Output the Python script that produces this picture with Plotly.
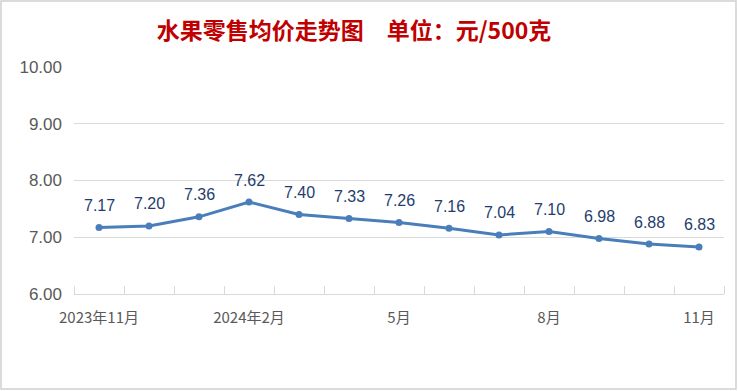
import plotly.graph_objects as go

months = ["2023年11月", "12月", "2024年1月", "2024年2月", "3月", "4月", "5月",
          "6月", "7月", "8月", "9月", "10月", "11月"]
prices = [7.17, 7.20, 7.36, 7.62, 7.40, 7.33, 7.26, 7.16, 7.04, 7.10, 6.98, 6.88, 6.83]
tick_idx = [0, 3, 6, 9, 12]
tick_text = ["2023年11月", "2024年2月", "5月", "8月", "11月"]

x = list(range(len(prices)))

fig = go.Figure()
fig.add_trace(go.Scatter(
    x=x, y=prices, mode="lines+markers",
    line=dict(color="#4A7EBB", width=3),
    marker=dict(color="#4A7EBB", size=7),
    hoverinfo="skip", showlegend=False,
))

for xi, v in zip(x, prices):
    fig.add_annotation(x=xi, y=v, text=f"{v:.2f}", showarrow=False,
                       yshift=22, font=dict(family="Liberation Sans", size=16, color="#1F3D6E"))

fig.update_layout(
    width=738, height=391,
    margin=dict(l=74, r=14, t=67, b=97),
    paper_bgcolor="white", plot_bgcolor="white",
    title=dict(text="<b>水果零售均价走势图　单位：元/500克</b>", x=354/738, xanchor="center",
               y=1 - 31/391, yanchor="middle",
               font=dict(family="Noto Sans CJK SC", size=23, color="#C00000")),
    xaxis=dict(range=[-0.5, 12.5], tickmode="array", tickvals=tick_idx, ticktext=tick_text,
               ticks="", showgrid=False, zeroline=False, ticklabelstandoff=10,
               showline=True, linecolor="#D9D9D9", linewidth=1,
               tickfont=dict(family="Noto Sans CJK SC", size=15, color="#595959"),
               minor=dict(tickmode="linear", tick0=-0.5, dtick=1, ticks="inside",
                          ticklen=8, tickcolor="#D9D9D9", showgrid=False)),
    yaxis=dict(range=[6, 10], dtick=1, tickformat=".2f", showgrid=True, gridcolor="#D9D9D9",
               zeroline=False, showline=False, ticks="", ticklabelstandoff=11,
               tickfont=dict(family="Liberation Sans", size=17, color="#595959")),
)

fig.add_shape(type="rect", xref="paper", yref="paper",
              x0=-73/650, x1=1 + 12/650, y0=-95/227, y1=1 + 66/227,
              line=dict(color="#D0D0D0", width=1.5), fillcolor="rgba(0,0,0,0)", layer="below")

fig.write_html("out.html", config={"displayModeBar": False},
               post_script="document.body.style.margin='0';document.body.style.overflow='hidden';")
